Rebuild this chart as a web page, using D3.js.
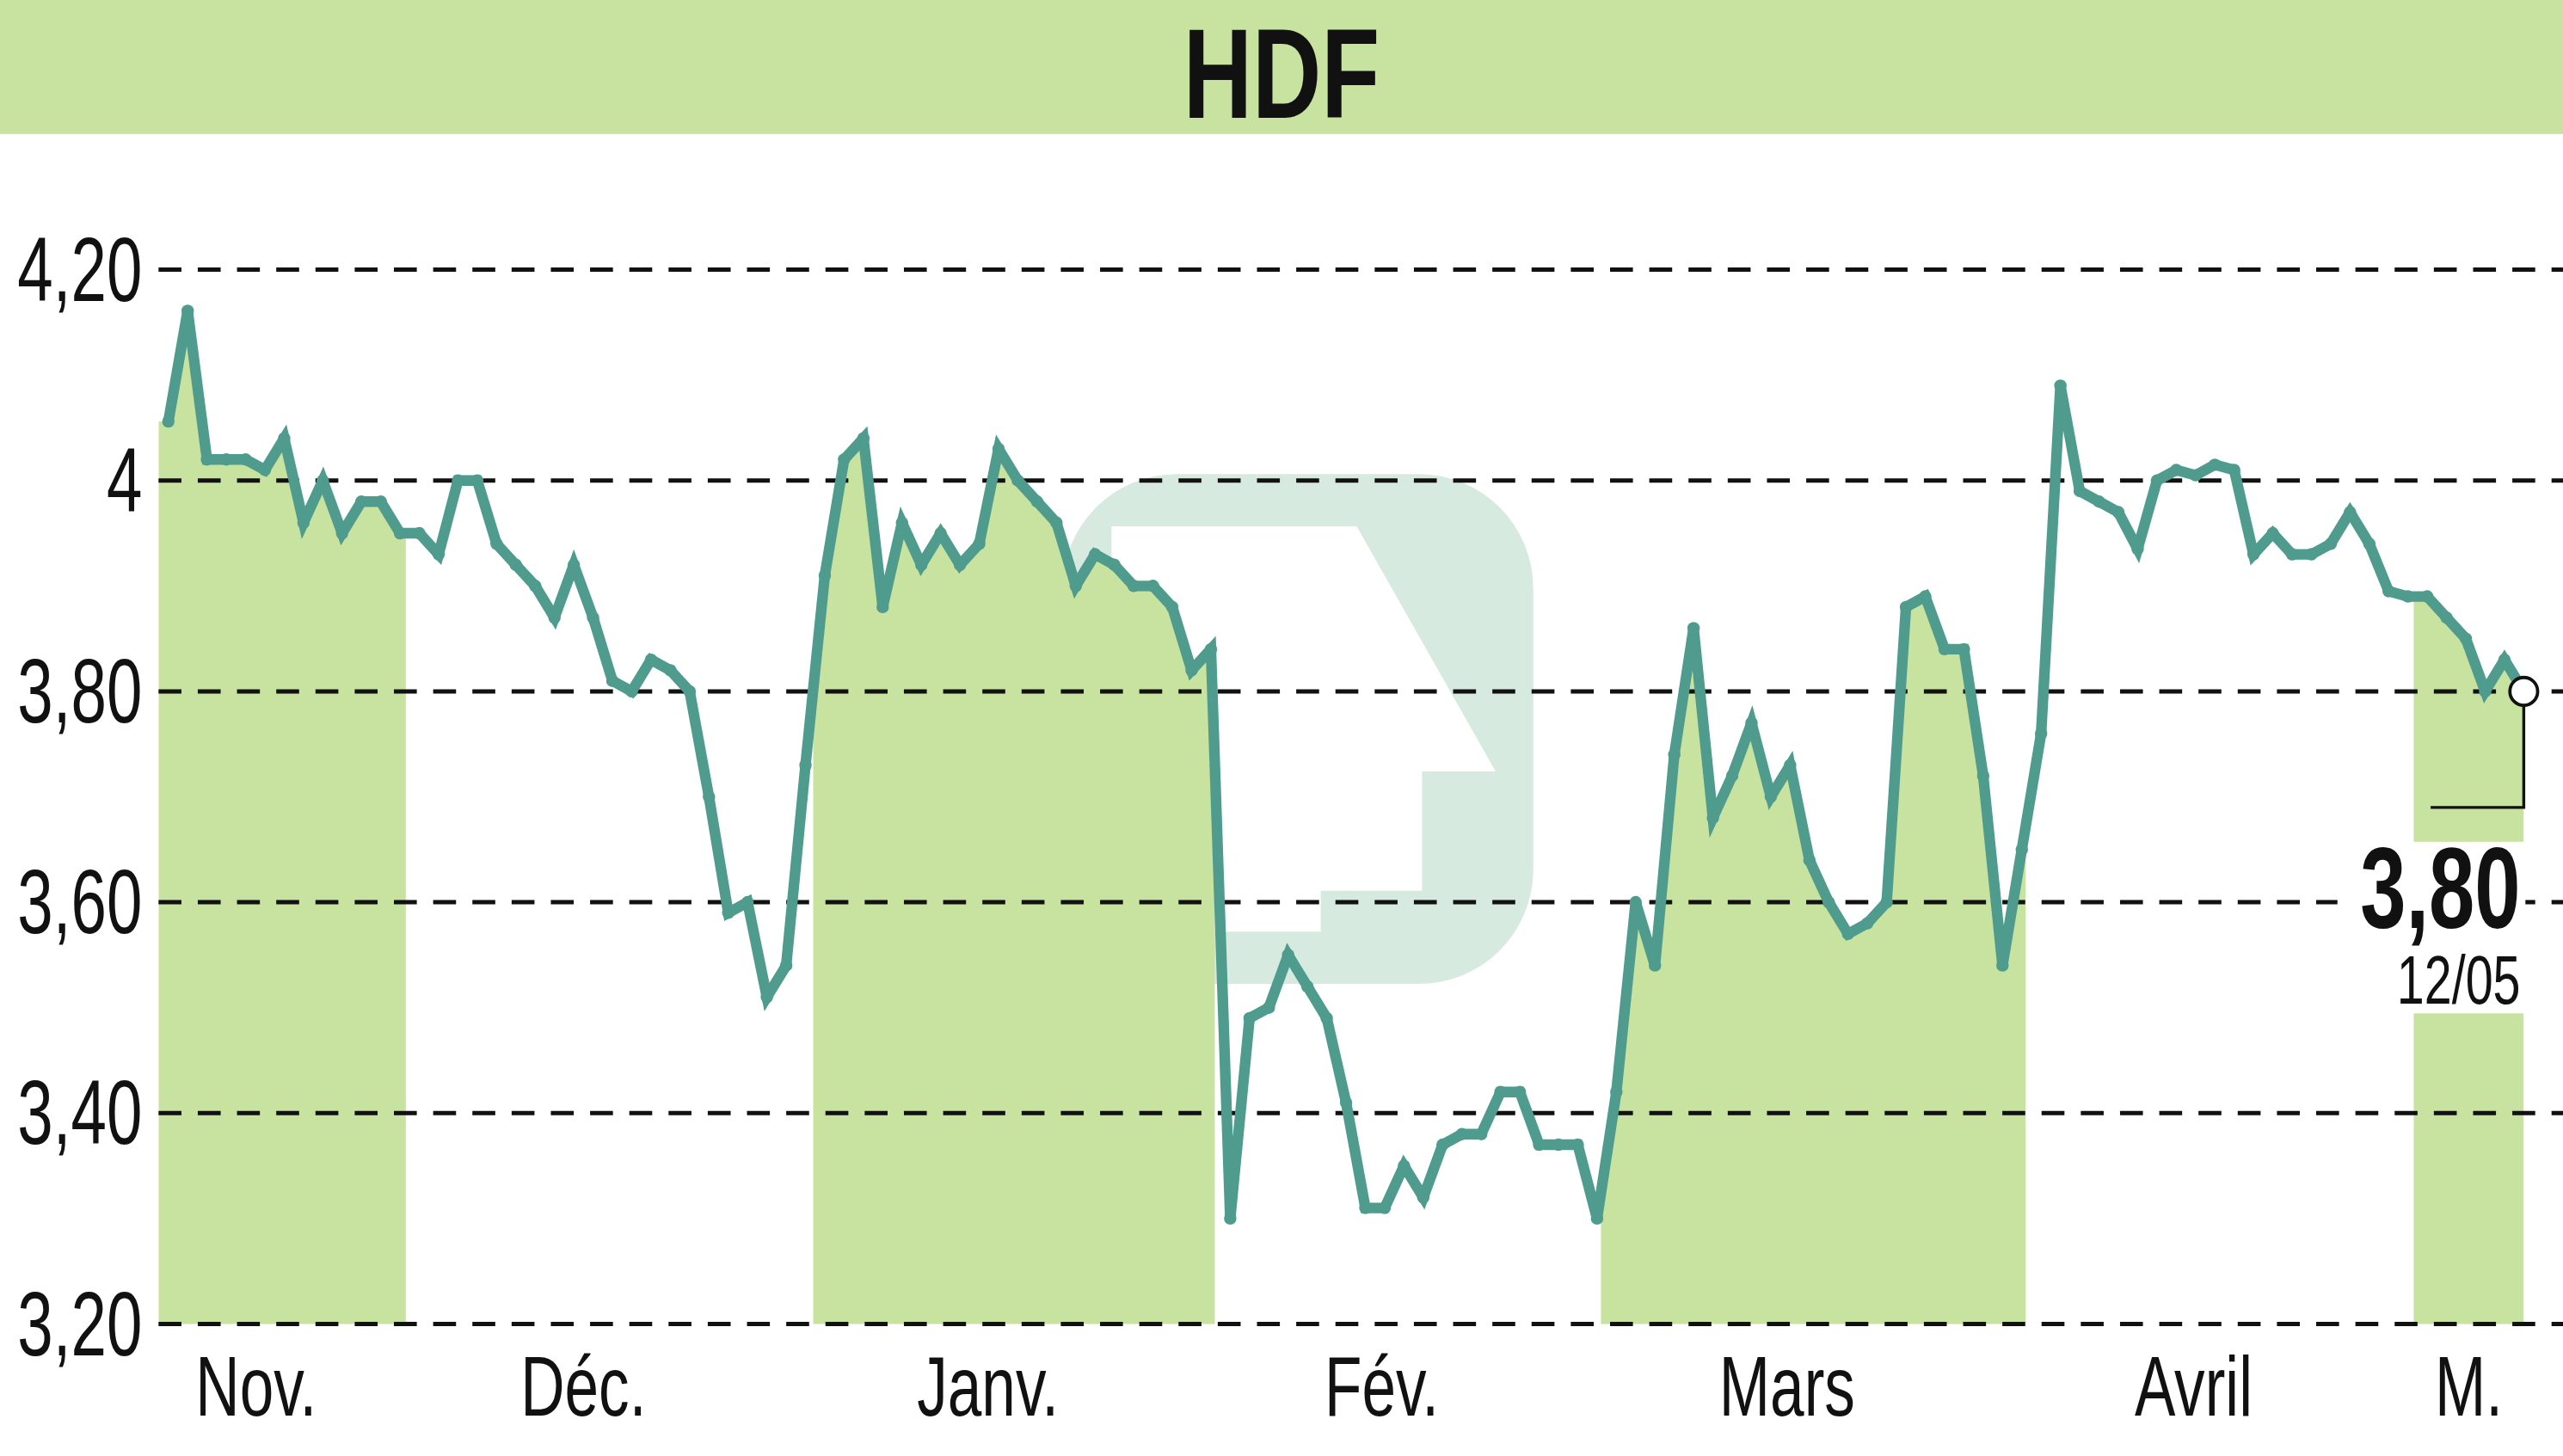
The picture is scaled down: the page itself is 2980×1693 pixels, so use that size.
<!DOCTYPE html>
<html><head><meta charset="utf-8">
<script src="https://cdn.jsdelivr.net/npm/d3@7/dist/d3.min.js"></script>
<style>body{margin:0;background:#fff}svg{display:block}</style>
</head><body>
<script>
const prices = [4.056,4.161,4.02,4.02,4.02,4.01,4.04,3.96,4.00,3.95,
3.98,3.98,3.95,3.95,3.93,4.00,4.00,3.94,3.92,3.90,
3.87,3.92,3.87,3.81,3.80,3.83,3.82,3.80,3.70,3.59,
3.60,3.51,3.54,3.73,3.91,4.02,4.04,3.88,3.96,3.92,
3.95,3.92,3.94,4.03,4.00,3.98,3.96,3.90,3.93,3.92,
3.90,3.90,3.88,3.82,3.84,3.30,3.49,3.50,3.55,3.52,
3.49,3.41,3.31,3.31,3.35,3.32,3.37,3.38,3.38,3.42,
3.42,3.37,3.37,3.37,3.30,3.42,3.60,3.54,3.74,3.86,
3.68,3.72,3.77,3.70,3.73,3.64,3.60,3.57,3.58,3.60,
3.88,3.89,3.84,3.84,3.72,3.54,3.65,3.76,4.09,3.99,
3.98,3.97,3.935,4.00,4.01,4.005,4.015,4.01,3.93,3.95,
3.93,3.93,3.94,3.97,3.94,3.895,3.89,3.89,3.87,3.85,
3.80,3.83,3.80];
const months = ["Nov.","Déc.","Janv.","Fév.","Mars","Avril","M."];
const monthBounds = [-0.5,12.3,33.4,54.2,74.2,96.2,116.3,122];
const yTicks = [3.2,3.4,3.6,3.8,4.0,4.2];
const yTickLabels = ["3,20","3,40","3,60","3,80","4","4,20"];
const title = "HDF";
const lastLabel = "3,80", lastDate = "12/05";

const W=2980,H=1693,S=2980/1568;
const F="'Liberation Sans','Roboto',sans-serif";
const svg=d3.select("body").append("svg").attr("width",W).attr("height",H);
const x=d3.scaleLinear().domain([0,prices.length-1]).range([103*S,1544*S]);
const y=d3.scaleLinear().domain([3.2,4.2]).range([810*S,165*S]);
const green="#c8e2a0", lineC="#4f9c8e";
function ctext(px,py,str,size,anchor,bold,sx){
  sx=sx||0.72;
  svg.append("text").attr("transform",`translate(${px},${py}) scale(${sx},1)`)
   .attr("text-anchor",anchor).attr("font-family",F).attr("font-weight",bold?"bold":"normal")
   .attr("font-size",size).attr("fill","#111").text(str);
}

svg.append("rect").attr("x",0).attr("y",0).attr("width",W).attr("height",82*S).attr("fill",green);
ctext(W/2,72*S,title,78*S,"middle",true,0.75);

const wm=svg.append("g").attr("opacity",0.35);
wm.append("rect").attr("x",650*S).attr("y",290*S).attr("width",288*S).attr("height",312*S).attr("rx",70*S).attr("fill","#8fc4a6");
wm.append("path").attr("d",`M${680*S},${322*S}L${830*S},${322*S}L${915*S},${472*S}L${870*S},${472*S}L${870*S},${545*S}L${808*S},${545*S}L${808*S},${570*S}L${680*S},${570*S}Z`).attr("fill","#fff");

const area=d3.area().x((d,i)=>x(i)).y0(y(3.2)).y1(d=>y(d));
const defs=svg.append("defs");
months.forEach((m,k)=>{
  if(k%2) return;
  const x0=x(monthBounds[k]), x1=k===months.length-1? 1544*S : x(monthBounds[k+1]);
  defs.append("clipPath").attr("id","c"+k).append("rect").attr("x",x0).attr("y",0).attr("width",x1-x0).attr("height",H);
  svg.append("path").datum(prices).attr("d",area).attr("fill",green).attr("clip-path",`url(#c${k})`);
});
svg.append("rect").attr("x",x(monthBounds[0])).attr("y",y(prices[0])).attr("width",x(0)-x(monthBounds[0])+1).attr("height",y(3.2)-y(prices[0])).attr("fill",green);

yTicks.forEach((t,i)=>{
  svg.append("line").attr("x1",97*S).attr("x2",W).attr("y1",y(t)).attr("y2",y(t))
   .attr("stroke","#111").attr("stroke-width",2.6*S).attr("stroke-dasharray",`${14*S},${10*S}`);
  ctext(87*S,y(t)+19*S,yTickLabels[i],56*S,"end",false,0.7);
});

months.forEach((m,k)=>{
  const x0=x(monthBounds[k]), x1=k===months.length-1? 1544*S : x(monthBounds[k+1]);
  const off = k===months.length-1 ? 0 : -16*S;
  ctext((x0+x1)/2+off,866*S,m,52*S,"middle",false,0.72);
});

svg.append("path").datum(prices).attr("d",d3.line().x((d,i)=>x(i)).y(d=>y(d)))
 .attr("fill","none").attr("stroke",lineC).attr("stroke-width",6.5*S).attr("stroke-linejoin","miter");
svg.selectAll(".pt").data(prices).enter().append("circle").attr("cx",(d,i)=>x(i)).attr("cy",d=>y(d)).attr("r",3.8*S).attr("fill",lineC);

const li=prices.length-1, lx=x(li), ly=y(prices[li]);
svg.append("rect").attr("x",1430*S).attr("y",515*S).attr("width",115*S).attr("height",105*S).attr("fill","#fff");
svg.append("path").attr("d",`M${lx},${ly}L${lx},${494*S}L${1487*S},${494*S}`).attr("fill","none").attr("stroke","#111").attr("stroke-width",1.8*S);
svg.append("circle").attr("cx",lx).attr("cy",ly).attr("r",8.5*S).attr("fill","#fff").attr("stroke","#111").attr("stroke-width",2*S);
ctext(1542*S,568*S,lastLabel,70*S,"end",true,0.72);
ctext(1542*S,614*S,lastDate,42*S,"end",false,0.72);
</script>
</body></html>
